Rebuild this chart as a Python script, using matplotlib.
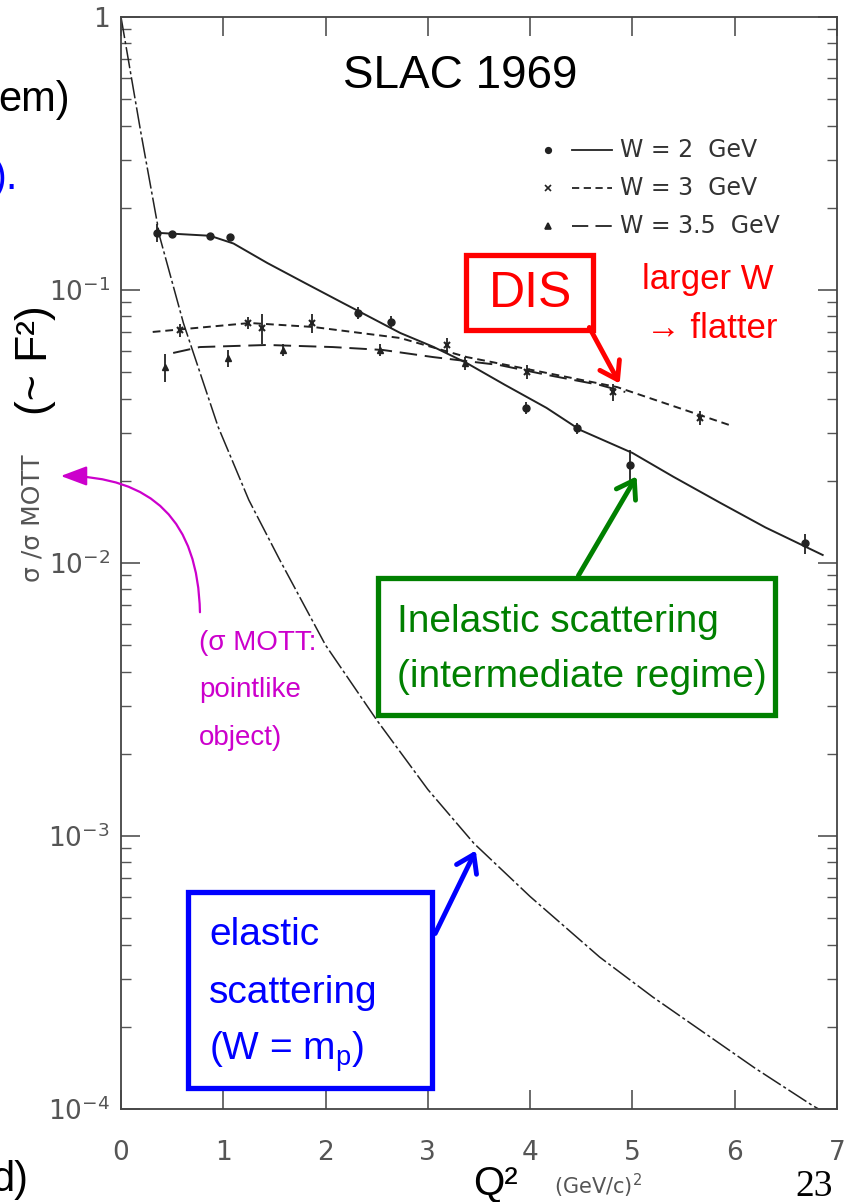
import matplotlib
matplotlib.use("Agg")
import matplotlib.pyplot as plt
from matplotlib.lines import Line2D
from matplotlib.patches import Rectangle, FancyArrowPatch

# elastic curve (W = m_p)
q2_el = [0.0, 0.19, 0.38, 0.61, 0.95, 1.25, 1.55, 2.0, 2.50, 3.0, 3.25, 3.45, 4.0, 4.68, 5.2, 5.66, 6.2, 6.76, 6.82]
r_el = [1.0, 0.385, 0.156, 0.0757, 0.0315, 0.017, 0.0103, 0.005, 0.00266, 0.00148, 0.00115, 0.00094,
        0.0006, 0.00036, 0.000257, 0.000195, 0.000141, 0.000103, 0.0001]

# fitted curves
q2_w2 = [0.35, 0.87, 1.1, 1.43, 1.8, 2.17, 2.45, 2.73, 3.05, 3.38, 3.75, 4.16, 4.49, 5.0, 5.4, 5.86, 6.3, 6.86]
r_w2 = [0.162, 0.158, 0.148, 0.1256, 0.106, 0.0896, 0.079, 0.0696, 0.062, 0.054, 0.045, 0.037, 0.0307,
        0.0253, 0.0207, 0.0166, 0.0135, 0.0107]
q2_w3 = [0.31, 1.26, 1.88, 2.73, 3.38, 4.16, 4.85, 5.95]
r_w3 = [0.0702, 0.0757, 0.0732, 0.0667, 0.0568, 0.0497, 0.0441, 0.032]
q2_w35 = [0.51, 0.77, 1.43, 2.07, 2.56, 3.05, 3.70, 4.16, 4.68, 4.93]
r_w35 = [0.0588, 0.0618, 0.0629, 0.0618, 0.0603, 0.0568, 0.0531, 0.0489, 0.0449, 0.0423]

# measured points
pts_w2_x = [0.35, 0.50, 0.87, 1.07, 2.32, 2.64, 3.96, 4.46, 4.98, 6.69]
pts_w2_y = [0.162, 0.160, 0.158, 0.156, 0.0824, 0.0763, 0.037, 0.0312, 0.0229, 0.0118]
pts_w2_e = [0.012, 0.005, 0.004, 0.005, 0.004, 0.004, 0.002, 0.0015, 0.003, 0.001]
pts_w3_x = [0.58, 1.24, 1.38, 1.87, 3.19, 3.97, 4.81, 5.66]
pts_w3_y = [0.0712, 0.0757, 0.0726, 0.0757, 0.0629, 0.0501, 0.0423, 0.034]
pts_w3_e = [0.004, 0.004, 0.009, 0.006, 0.004, 0.003, 0.003, 0.002]
pts_w35_x = [0.43, 1.05, 1.58, 2.53, 3.36]
pts_w35_y = [0.0522, 0.0563, 0.0603, 0.0603, 0.054]
pts_w35_e = [0.006, 0.004, 0.003, 0.003, 0.003]

legend_labels = ["W = 2  GeV", "W = 3  GeV", "W = 3.5  GeV"]
x_ticks = [0, 1, 2, 3, 4, 5, 6, 7]
y_ticks = [1e-4, 1e-3, 1e-2, 1e-1, 1]
y_ticklabels = ["$10^{-4}$", "$10^{-3}$", "$10^{-2}$", "$10^{-1}$", "1"]

W, H = 846, 1202
fig = plt.figure(figsize=(W / 100, H / 100), dpi=100)

def fx(px):
    return px / W

def fy(py):
    return 1 - py / H

ax = fig.add_axes([fx(121), fy(1109), (837 - 121) / W, (1109 - 17) / H])
ax.set_yscale("log")
ax.set_xlim(0, 7)
ax.set_ylim(1e-4, 1)

ink = "#222222"
ax.plot(q2_el, r_el, color=ink, lw=1.1, ls=(0, (14, 2, 2, 2)))
ax.plot(q2_w2, r_w2, color=ink, lw=1.4, ls="-")
ax.plot(q2_w3, r_w3, color=ink, lw=1.4, ls=(0, (4, 2.5)))
ax.plot(q2_w35, r_w35, color=ink, lw=1.4, ls=(0, (9, 4)))

ax.errorbar(pts_w2_x, pts_w2_y, yerr=pts_w2_e, fmt="o", ms=5, color=ink, elinewidth=1.3, capsize=0)
ax.errorbar(pts_w3_x, pts_w3_y, yerr=pts_w3_e, fmt="x", ms=5, mew=1.5, color=ink, elinewidth=1.3, capsize=0)
ax.errorbar(pts_w35_x, pts_w35_y, yerr=pts_w35_e, fmt="^", ms=5, color=ink, elinewidth=1.3, capsize=0)

for s in ax.spines.values():
    s.set_color("#444444")
    s.set_linewidth(1.3)
ax.set_xticks(x_ticks)
ax.set_xticklabels([str(t) for t in x_ticks])
ax.set_yticks(y_ticks)
ax.set_yticklabels(y_ticklabels)
ax.tick_params(which="major", direction="in", length=14, width=1.1, color="#444444",
               top=True, right=True, labelsize=19, labelcolor="#555555", pad=8)
ax.tick_params(axis="x", which="major", pad=22)
ax.tick_params(which="minor", direction="in", length=7, width=1.0, color="#555555",
               left=True, right=True, top=False, bottom=False)

# legend drawn by hand, like the scanned figure
leg_marks = ["o", "x", "^"]
leg_styles = ["-", (0, (4, 2.5)), (0, (9, 4))]
for i, (lab, mk, st) in enumerate(zip(legend_labels, leg_marks, leg_styles)):
    yy = 150 + i * 38
    fig.add_artist(Line2D([fx(548)], [fy(yy)], marker=mk, ms=4, mew=1.2, color=ink, ls="none",
                          transform=fig.transFigure))
    fig.add_artist(Line2D([fx(572), fx(612)], [fy(yy), fy(yy)], lw=1.3, ls=st, color=ink,
                          transform=fig.transFigure))
    fig.text(fx(620), fy(yy), lab, fontsize=17, color="#333333", va="center", ha="left")

sans = ["Liberation Sans", "DejaVu Sans"]

fig.text(fx(460), fy(76), "SLAC 1969", fontsize=33, family=sans, ha="center", va="center")

# DIS box
red = "#FF0000"
fig.add_artist(Rectangle((fx(466), fy(330)), fx(593) - fx(466), fy(255) - fy(330),
                         fill=False, ec=red, lw=3.8, transform=fig.transFigure))
fig.text(fx(530), fy(294), "DIS", fontsize=36, color=red, family=sans, ha="center", va="center")
fig.add_artist(FancyArrowPatch((fx(588), fy(325)), (fx(621), fy(386)), transform=fig.transFigure,
                               arrowstyle="->,head_length=0.6,head_width=0.4", mutation_scale=20,
                               color=red, lw=3.5))
fig.text(fx(708), fy(280), "larger W", fontsize=25, color=red, family=sans, ha="center", va="center")
fig.text(fx(712), fy(328), "\u2192 flatter", fontsize=25, color=red, family=sans, ha="center", va="center")

# inelastic box
green = "#008000"
fig.add_artist(Rectangle((fx(378), fy(715)), fx(775) - fx(378), fy(578) - fy(715),
                         fill=False, ec=green, lw=3.8, transform=fig.transFigure))
fig.text(fx(397), fy(622), "Inelastic scattering", fontsize=28, color=green, family=sans, va="center")
fig.text(fx(397), fy(677), "(intermediate regime)", fontsize=28, color=green, family=sans, va="center")
fig.add_artist(FancyArrowPatch((fx(577), fy(578)), (fx(638), fy(474)), transform=fig.transFigure,
                               arrowstyle="->,head_length=0.6,head_width=0.4", mutation_scale=20,
                               color=green, lw=3.5))

# elastic box
blue = "#0000FF"
fig.add_artist(Rectangle((fx(188), fy(1088)), fx(432) - fx(188), fy(892) - fy(1088),
                         fill=False, ec=blue, lw=3.8, transform=fig.transFigure))
fig.text(fx(209), fy(935), "elastic", fontsize=28, color=blue, family=sans, va="center")
fig.text(fx(209), fy(993), "scattering", fontsize=28, color=blue, family=sans, va="center")
fig.text(fx(209), fy(1052), "(W = m$_\\mathregular{p}$)", fontsize=28, color=blue, family=sans, va="center")
fig.add_artist(FancyArrowPatch((fx(434), fy(936)), (fx(477), fy(848)), transform=fig.transFigure,
                               arrowstyle="->,head_length=0.6,head_width=0.4", mutation_scale=20,
                               color=blue, lw=3.5))

# Mott note
mag = "#CC00CC"
fig.text(fx(199), fy(643), "(\u03c3 MOTT:", fontsize=20, color=mag, family=sans, va="center")
fig.text(fx(199), fy(690), "pointlike", fontsize=20, color=mag, family=sans, va="center")
fig.text(fx(199), fy(738), "object)", fontsize=20, color=mag, family=sans, va="center")
fig.add_artist(FancyArrowPatch((fx(200), fy(615)), (fx(58), fy(476)), transform=fig.transFigure,
                               connectionstyle="arc3,rad=0.5",
                               arrowstyle="-|>,head_length=0.8,head_width=0.3", mutation_scale=20,
                               color=mag, lw=1.6))

# axis labels
fig.text(fx(33), fy(518), "\u03c3 /\u03c3 MOTT", fontsize=18, color="#555555", rotation=90,
         ha="center", va="center")
fig.text(fx(36), fy(360), "(~ F\u00b2)", fontsize=32, family=sans, rotation=90, ha="center", va="center")
fig.text(fx(495), fy(1183), "Q\u00b2", fontsize=29, family=sans, ha="center", va="center")
fig.text(fx(598), fy(1186), "(GeV/c)$^2$", fontsize=15, color="#555555", ha="center", va="center")

# slide fragments
fig.text(fx(-2), fy(100), "em)", fontsize=30, family=sans, ha="left", va="center")
fig.text(fx(18), fy(178), ").", fontsize=30, family=sans, color=blue, ha="right", va="center")
fig.text(fx(28), fy(1180), "d)", fontsize=30, family=sans, ha="right", va="center")
fig.text(fx(814), fy(1187), "23", fontsize=27, family=["Liberation Serif", "DejaVu Serif"],
         ha="center", va="center")

fig.savefig("out.png", dpi=100)
